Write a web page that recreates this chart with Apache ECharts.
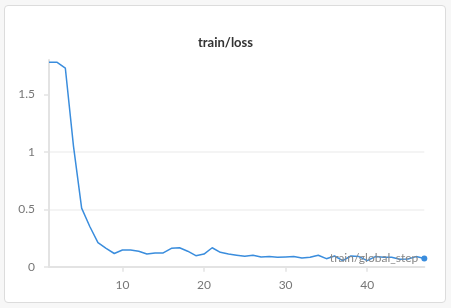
<!DOCTYPE html>
<html>
<head>
<meta charset="utf-8">
<script src="https://cdn.jsdelivr.net/npm/echarts@6/dist/echarts.min.js"></script>
<style>
html,body{margin:0;padding:0;background:#f7f7f7;}
#card{position:absolute;left:4px;top:5px;width:442px;height:298px;border:1px solid #dcdcdc;border-radius:4px;background:#fff;box-sizing:border-box;}
#chart{position:absolute;left:0;top:0;width:451px;height:308px;}
</style>
</head>
<body>
<div id="card"></div>
<div id="chart"></div>
<script>
const title = 'train/loss';
const steps = [1,2,3,4,5,6,7,8,9,10,11,12,13,14,15,16,17,18,19,20,21,22,23,24,25,26,27,28,29,30,31,32,33,34,35,36,37,38,39,40,41,42,43,44,45,46,47];
const loss = [1.78,1.78,1.73,1.05,0.51,0.35,0.21,0.16,0.115,0.145,0.145,0.134,0.11,0.12,0.12,0.16,0.165,0.135,0.096,0.11,0.165,0.125,0.11,0.10,0.09,0.10,0.085,0.088,0.082,0.085,0.088,0.076,0.082,0.10,0.07,0.093,0.053,0.093,0.088,0.053,0.088,0.082,0.082,0.064,0.067,0.088,0.072];
const xTicks = [10,20,30,40];
const yTicks = [0,0.5,1,1.5];
const endLabel = 'train/global_step';

const chart = echarts.init(document.getElementById('chart'));
const font = 'Lato, "Noto Sans", sans-serif';
chart.setOption({
  animation:false,
  title:{text:title,left:'center',top:31,textStyle:{fontFamily:font,fontSize:13,fontWeight:'bold',color:'#333'}},
  grid:{left:49,right:26.7,top:60,bottom:41.3},
  xAxis:{type:'value',min:1,max:47,
    axisLine:{lineStyle:{color:'#e3e3e3',width:2}},
    axisTick:{customValues:xTicks,length:5,lineStyle:{color:'#e3e3e3',width:1.5}},
    axisLabel:{customValues:xTicks,color:'#777',fontFamily:font,fontSize:12,margin:12},
    splitLine:{show:false}},
  yAxis:{type:'value',min:0,max:1.8,interval:0.5,
    axisLine:{show:true,lineStyle:{color:'#e3e3e3',width:2}},
    axisTick:{show:true,customValues:yTicks,length:5,lineStyle:{color:'#e3e3e3',width:1.5}},
    axisLabel:{customValues:yTicks,color:'#777',fontFamily:font,fontSize:12,margin:14},
    splitLine:{show:true,showMaxLine:false,lineStyle:{color:'#f0f0f0',width:1.5}}},
  series:[{type:'line',data:steps.map((s,i)=>[s,loss[i]]),showSymbol:false,
    lineStyle:{color:'#3a8ddd',width:1.5},itemStyle:{color:'#3a8ddd'},
    markPoint:{symbol:'circle',symbolSize:6,itemStyle:{color:'#3a8ddd'},
      data:[{coord:[steps[steps.length-1],loss[loss.length-1]],
        label:{show:true,formatter:endLabel,position:'left',distance:3,color:'#888',fontFamily:font,fontSize:12}}]}}]
});
</script>
</body>
</html>
